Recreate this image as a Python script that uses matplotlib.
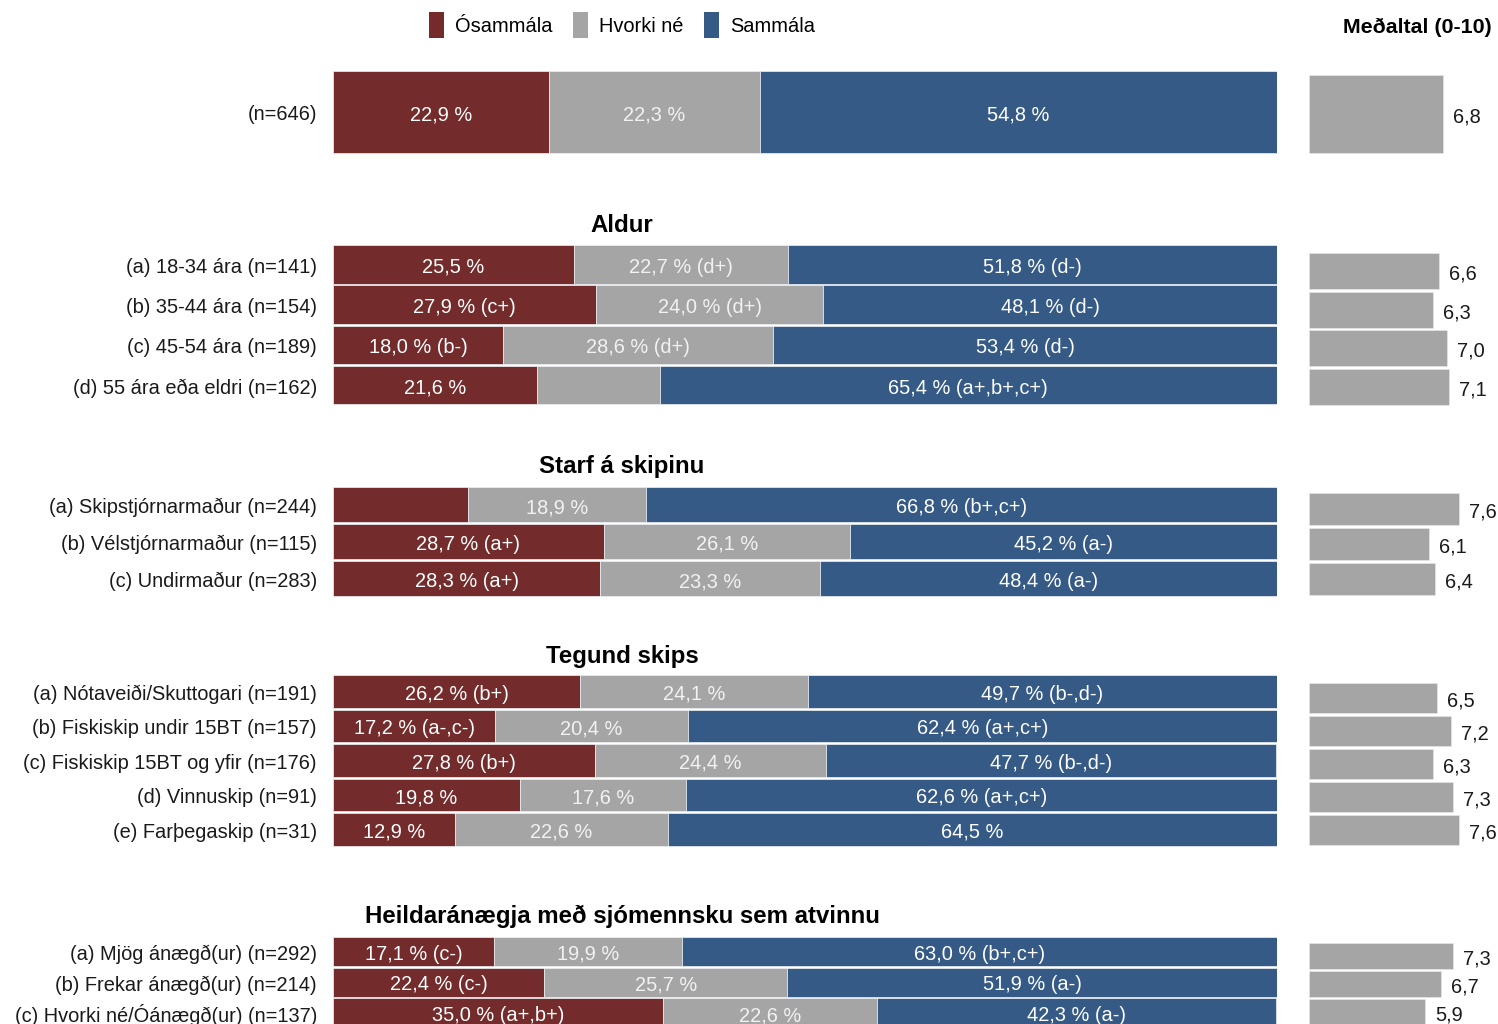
import matplotlib
matplotlib.use("Agg")
import matplotlib.pyplot as plt
from matplotlib.patches import Patch

plt.rcParams['font.family'] = ['Liberation Sans', 'DejaVu Sans']

# ---------------- data ----------------
series_names = ["Ósammála", "Hvorki né", "Sammála"]
group_titles = ["", "Aldur", "Starf á skipinu", "Tegund skips",
                "Heildaránægja með sjómennsku sem atvinnu"]
group_sizes = [1, 4, 3, 5, 3]
categories = [
    "(n=646)",
    "(a) 18-34 ára (n=141)", "(b) 35-44 ára (n=154)",
    "(c) 45-54 ára (n=189)", "(d) 55 ára eða eldri (n=162)",
    "(a) Skipstjórnarmaður (n=244)", "(b) Vélstjórnarmaður (n=115)",
    "(c) Undirmaður (n=283)",
    "(a) Nótaveiði/Skuttogari (n=191)", "(b) Fiskiskip undir 15BT (n=157)",
    "(c) Fiskiskip 15BT og yfir (n=176)", "(d) Vinnuskip (n=91)",
    "(e) Farþegaskip (n=31)",
    "(a) Mjög ánægð(ur) (n=292)", "(b) Frekar ánægð(ur) (n=214)",
    "(c) Hvorki né/Óánægð(ur) (n=137)",
]
osammala = [22.9, 25.5, 27.9, 18.0, 21.6, 14.3, 28.7, 28.3,
            26.2, 17.2, 27.8, 19.8, 12.9, 17.1, 22.4, 35.0]
hvorki = [22.3, 22.7, 24.0, 28.6, 13.0, 18.9, 26.1, 23.3,
          24.1, 20.4, 24.4, 17.6, 22.6, 19.9, 25.7, 22.6]
sammala = [54.8, 51.8, 48.1, 53.4, 65.4, 66.8, 45.2, 48.4,
           49.7, 62.4, 47.7, 62.6, 64.5, 63.0, 51.9, 42.3]
osammala_sig = ["", "", "(c+)", "(b-)", "", None, "(a+)", "(a+)",
                "(b+)", "(a-,c-)", "(b+)", "", "", "(c-)", "(c-)", "(a+,b+)"]
hvorki_sig = ["", "(d+)", "(d+)", "(d+)", None, "", "", "",
              "", "", "", "", "", "", "", ""]
sammala_sig = ["", "(d-)", "(d-)", "(d-)", "(a+,b+,c+)", "(b+,c+)", "(a-)", "(a-)",
               "(b-,d-)", "(a+,c+)", "(b-,d-)", "(a+,c+)", "", "(b+,c+)", "(a-)", "(a-)"]
means = [6.8, 6.6, 6.3, 7.0, 7.1, 7.6, 6.1, 6.4,
         6.5, 7.2, 6.3, 7.3, 7.6, 7.3, 6.7, 5.9]

# ---------------- layout (pixels) ----------------
W, H = 1498, 1024
# per group: left top, left pitch, left height, right top, right pitch, right height, header y
layout = [
    (71, 82, 82, 75, 78, 78, None),
    (245, 40.3, 38.5, 253, 38.7, 36, 224),
    (487, 37, 35, 493, 35, 32, 464),
    (675, 34.5, 32.5, 683, 33, 30, 654),
    (937, 30.5, 29, 943, 28, 26, 914),
]

colors = ["#732B2B", "#A5A5A5", "#355A86"]
label_colors = ["white", "#F2F2F2", "white"]
FS = 14.4
DY = 3

fig = plt.figure(figsize=(W / 100, H / 100), dpi=100)
ax = fig.add_axes([333 / W, 0, 944 / W, 1])
ax.set_xlim(0, 100)
ax.set_ylim(H, 0)
ax.axis("off")

ax2 = fig.add_axes([1309 / W, 0, 189 / W, 1])
ax2.set_xlim(0, 189 / 19.74)
ax2.set_ylim(H, 0)
ax2.axis("off")

left_y, left_h, right_y, right_h = [], [], [], []
for (lt, lp, lh, rt, rp, rh, hy), n in zip(layout, group_sizes):
    for i in range(n):
        left_y.append(lt + i * lp + lh / 2)
        left_h.append(lh)
        right_y.append(rt + i * rp + rh / 2)
        right_h.append(rh)

values = [osammala, hvorki, sammala]
sigs = [osammala_sig, hvorki_sig, sammala_sig]
left = [0.0] * len(categories)
for k in range(3):
    bars = ax.barh(left_y, values[k], height=left_h, left=left,
                   color=colors[k], edgecolor="#EEF1F5", linewidth=0.5)
    for r, b in enumerate(bars):
        s = sigs[k][r]
        if s is not None:
            txt = f"{values[k][r]:.1f}".replace(".", ",") + " %"
            if s:
                txt += " " + s
            ax.text(b.get_x() + b.get_width() / 2, left_y[r] + DY, txt,
                    ha="center", va="center", color=label_colors[k], fontsize=FS)
    left = [a + v for a, v in zip(left, values[k])]

for r, cat in enumerate(categories):
    ax.text(-1.7, left_y[r] + DY, cat, ha="right", va="center",
            fontsize=FS, color="#1A1A1A")

mb = ax2.barh(right_y, means, height=right_h, color="#A5A5A5",
              edgecolor="#E6E6E6", linewidth=0.5)
for r, b in enumerate(mb):
    ax2.text(b.get_width() + 0.5, right_y[r] + DY,
             f"{means[r]:.1f}".replace(".", ","), ha="left", va="center",
             fontsize=FS, color="#1A1A1A", clip_on=False)

for (lt, lp, lh, rt, rp, rh, hy), title in zip(layout, group_titles):
    if hy is not None and title:
        fig.text(622 / W, 1 - (hy + 2) / H, title, ha="center", va="center",
                 fontsize=17.3, fontweight="bold", color="black")

fig.text(1492 / W, 1 - 27 / H, "Meðaltal (0-10)", ha="right", va="center",
         fontsize=15.4, fontweight="bold", color="black")

handles = [Patch(facecolor=c, edgecolor="none") for c in colors]
fig.legend(handles, series_names, loc="center", bbox_to_anchor=(622 / W, 1 - 25 / H),
           ncol=3, frameon=False, fontsize=FS, handlelength=0.75, handleheight=1.6,
           handletextpad=0.55, columnspacing=1.05, borderaxespad=0, borderpad=0)

fig.savefig("out.png", dpi=100)
